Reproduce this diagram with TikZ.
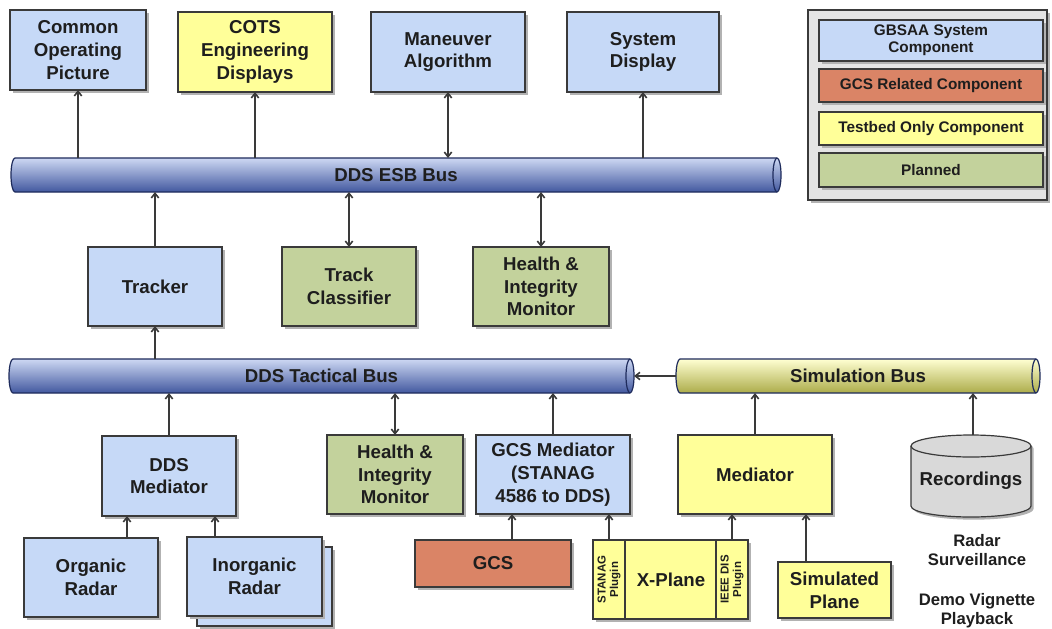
\documentclass[tikz,border=0pt]{standalone}
\usepackage{fontspec}
\setmainfont{Liberation Sans}
\usepackage{graphicx}
\usetikzlibrary{shadows,arrows.meta,calc}
\definecolor{blueF}{HTML}{C6D9F7}
\definecolor{yellowF}{HTML}{FFFF99}
\definecolor{greenF}{HTML}{C3D29C}
\definecolor{orangeF}{HTML}{DA8466}
\definecolor{legF}{HTML}{E4E4E4}
\definecolor{lc}{HTML}{3A3A3A}
\definecolor{txt}{HTML}{1E1E1E}
\definecolor{busline}{HTML}{1E2B5C}
\definecolor{busT}{HTML}{CDD8F3}
\definecolor{busM}{HTML}{A3B5E4}
\definecolor{busB}{HTML}{42589F}
\definecolor{simT}{HTML}{FFFFD2}
\definecolor{simM}{HTML}{F2F28C}
\definecolor{simB}{HTML}{ACAC4A}
\definecolor{recF}{HTML}{D9D9D9}
\newcommand\mf{\fontsize{14}{17}\selectfont\bfseries}
\newcommand\lf{\fontsize{11.5}{13}\selectfont\bfseries}
\newcommand\pf{\fontsize{8.6}{9.6}\selectfont\bfseries}
\newcommand\busshape[4]{%
  \path[draw=busline, line width=0.9pt, top color=#2, middle color=#3, bottom color=#4]
    ($(#1.north west)+(4,0)$) -- ($(#1.north east)+(-4,0)$)
    arc[start angle=-90, end angle=90, x radius=4, y radius=17]
    -- ($(#1.south west)+(4,0)$)
    arc[start angle=90, end angle=270, x radius=4, y radius=17] -- cycle;
  \draw[busline, line width=0.9pt] ($(#1.north east)+(-4,0)$)
    arc[start angle=270, end angle=90, x radius=4, y radius=17];
}
\begin{document}
\begin{tikzpicture}[x=0.75pt,y=-0.75pt,
  every node/.style={font=\mf, text=txt, align=center, inner sep=0pt, outer sep=0pt},
  sz/.style 2 args={minimum width=#1*0.75pt, minimum height=#2*0.75pt},
  box/.style={draw=lc, line width=0.9pt, drop shadow={shadow xshift=2.2pt, shadow yshift=-2.2pt, fill=black!30, opacity=1}},
  bluebox/.style={box, fill=blueF},
  yellowbox/.style={box, fill=yellowF},
  greenbox/.style={box, fill=greenF},
  orangebox/.style={box, fill=orangeF},
  legitem/.style={box, font=\lf, sz={224}{#1}},
  arr/.style={draw=lc, line width=1.2pt, -{Straight Barb[length=3.5pt,width=5.5pt]}},
  darr/.style={draw=lc, line width=1.2pt, {Straight Barb[length=3.5pt,width=5.5pt]}-{Straight Barb[length=3.5pt,width=5.5pt]}},
  busnode/.style={draw=none, fill=none}
]
\useasboundingbox[fill=white] (0,0) rectangle (1052,628);

% top row
\node[bluebox, sz={136}{80}] (cop) at (78,50) {Common\\Operating\\Picture};
\node[yellowbox, sz={154}{80}] (cots) at (255,52) {COTS\\Engineering\\Displays};
\node[bluebox, sz={154}{80}] (man) at (448,52) {Maneuver\\Algorithm};
\node[bluebox, sz={152}{80}] (sysd) at (643,52) {System\\Display};

% buses
\node[busnode, sz={770}{34}] (esb) at (396,175) {};
\busshape{esb}{busT}{busM}{busB}
\node (esbl) at (esb) {DDS ESB Bus};
\node[busnode, sz={625}{34}] (tac) at (321.5,376) {};
\busshape{tac}{busT}{busM}{busB}
\node (tacl) at (tac) {DDS Tactical Bus};
\node[busnode, sz={364}{34}] (sim) at (858,376) {};
\busshape{sim}{simT}{simM}{simB}
\node (siml) at (sim) {Simulation Bus};

% middle row
\node[bluebox, sz={134}{79}] (trk) at (155,286.5) {Tracker};
\node[greenbox, sz={134}{79}] (tcl) at (349,286.5) {Track\\Classifier};
\node[greenbox, sz={136}{79}] (him1) at (541,286.5) {Health \&\\Integrity\\Monitor};

% lower row
\node[bluebox, sz={134}{80}] (ddsm) at (169,476) {DDS\\Mediator};
\node[greenbox, sz={136}{79}] (him2) at (395,474.5) {Health \&\\Integrity\\Monitor};
\node[bluebox, sz={154}{79}] (gcsm) at (553,474.5) {GCS Mediator\\(STANAG\\4586 to DDS)};
\node[yellowbox, sz={154}{79}] (med) at (755,474.5) {Mediator};

% bottom row
\node[bluebox, sz={134}{79}] (org) at (91,577.5) {Organic\\Radar};
\node[bluebox, sz={135}{79}] (inorgb) at (264.5,586.5) {};
\node[bluebox, sz={135}{79}] (inorg) at (254.5,576.5) {Inorganic\\Radar};
\node[orangebox, sz={156}{47}] (gcs) at (493,563.5) {GCS};
\node[yellowbox, sz={155}{79}] (xp) at (670.5,579.5) {};
\node (xpl) at (671,579.5) {X-Plane};
\node[draw=lc, line width=0.9pt, fill=yellowF, sz={32}{79}] (stan) at (609,579.5) {\pf\rotatebox{90}{\shortstack{STANAG\\Plugin}}};
\node[draw=lc, line width=0.9pt, fill=yellowF, sz={32}{79}] (ieee) at (732,579.5) {\pf\rotatebox{90}{\shortstack{IEEE DIS\\Plugin}}};
\node[yellowbox, sz={113}{56}] (splane) at (834.5,590) {Simulated\\Plane};

% recordings cylinder
\node[busnode, sz={120}{82}] (rec) at (971,476) {};
\path[draw=lc, line width=0.9pt, fill=recF, drop shadow={shadow xshift=2pt, shadow yshift=-2pt, fill=black!30, opacity=1}]
  ($(rec.north west)+(0,11)$) -- ($(rec.south west)+(0,-11)$)
  arc[start angle=180, end angle=0, x radius=60, y radius=11]
  -- ($(rec.north east)+(0,11)$)
  arc[start angle=0, end angle=-180, x radius=60, y radius=11];
\draw[lc, line width=0.9pt] ($(rec.north west)+(0,11)$) arc[start angle=180, end angle=0, x radius=60, y radius=11];
\node (recl) at (971,481) {Recordings};
\node[font=\fontsize{12.5}{14.5}\selectfont\bfseries] (rs) at (977,550) {Radar\\Surveillance};
\node[font=\fontsize{12.5}{14.5}\selectfont\bfseries] (dv) at (977,611) {Demo Vignette\\Playback};

% legend
\node[box, fill=legF, sz={239}{190}] (leg) at (927.5,105) {};
\node[legitem=41, fill=blueF] (l1) at (931,40.5) {GBSAA System\\Component};
\node[legitem=33, fill=orangeF] (l2) at (931,85.5) {GCS Related Component};
\node[legitem=33, fill=yellowF] (l3) at (931,128.5) {Testbed Only Component};
\node[legitem=34, fill=greenF] (l4) at (931,170) {Planned};

% connectors: ESB
\draw[arr] (cop.south |- esb.north) -- (cop.south);
\draw[arr] (cots.south |- esb.north) -- (cots.south);
\draw[darr] (man.south |- esb.north) -- (man.south);
\draw[arr] (sysd.south |- esb.north) -- (sysd.south);
\draw[arr] (trk.north) -- (trk.north |- esb.south);
\draw[darr] (tcl.north) -- (tcl.north |- esb.south);
\draw[darr] (him1.north) -- (him1.north |- esb.south);
% tactical
\draw[arr] (trk.south |- tac.north) -- (trk.south);
\draw[arr] (ddsm.north) -- (ddsm.north |- tac.south);
\draw[darr] (him2.north) -- (him2.north |- tac.south);
\draw[arr] (gcsm.north) -- (gcsm.north |- tac.south);
\draw[arr] (sim.west) -- (tac.east);
% simulation
\draw[arr] (med.north) -- (med.north |- sim.south);
\coordinate (recA) at ([xshift=1.5pt]rec.north);
\draw[arr] (recA) -- (recA |- sim.south);
% bottom
\coordinate (orgA) at ([xshift=27pt]org.north);
\draw[arr] (orgA) -- (orgA |- ddsm.south);
\coordinate (inorgA) at ([xshift=-29.6pt]inorg.north);
\draw[arr] (inorgA) -- (inorgA |- ddsm.south);
\coordinate (gcsA) at ([xshift=14.25pt]gcs.north);
\draw[arr] (gcsA) -- (gcsA |- gcsm.south);
\draw[arr] (stan.north) -- (stan.north |- gcsm.south);
\draw[arr] (ieee.north) -- (ieee.north |- med.south);
\coordinate (spA) at ([xshift=-21.4pt]splane.north);
\draw[arr] (spA) -- (spA |- med.south);
\end{tikzpicture}
\end{document}
